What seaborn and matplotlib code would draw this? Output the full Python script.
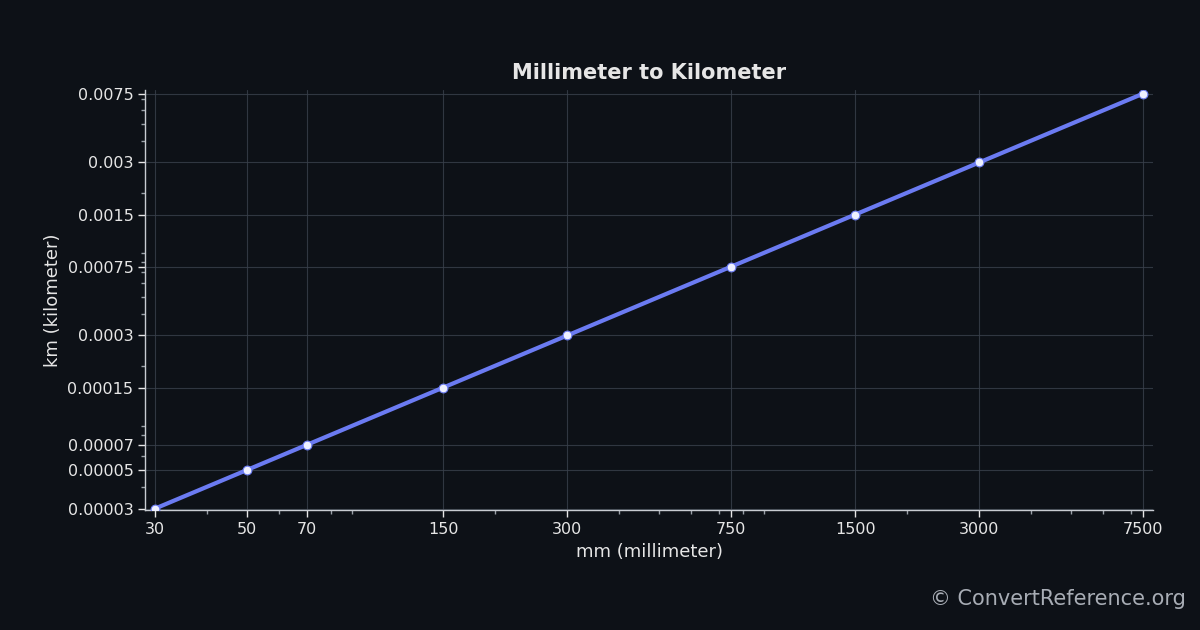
"""Millimeter to kilometer conversion chart (log-log)."""

import matplotlib

matplotlib.use("Agg")
import matplotlib.pyplot as plt
import pandas as pd
import seaborn as sns
from matplotlib.ticker import FixedLocator, FixedFormatter, NullFormatter

MM = [30, 50, 70, 150, 300, 750, 1500, 3000, 7500]
KM = [0.00003, 0.00005, 0.00007, 0.00015, 0.0003, 0.00075, 0.0015, 0.003, 0.0075]
X_LABELS = ["30", "50", "70", "150", "300", "750", "1500", "3000", "7500"]
Y_LABELS = ["0.00003", "0.00005", "0.00007", "0.00015", "0.0003",
            "0.00075", "0.0015", "0.003", "0.0075"]

BG = "#0d1117"
FG = "#e6e6e6"
LINE = "#6b7bf2"

sns.set_theme(style="dark")
plt.rcParams["font.family"] = ["DejaVu Sans"]

df = pd.DataFrame({"mm": MM, "km": KM})

fig = plt.figure(figsize=(12, 6.3), dpi=100, facecolor=BG)
ax = fig.add_axes([0.121, 0.19, 0.84, 0.667])
ax.set_facecolor(BG)

sns.lineplot(data=df, x="mm", y="km", color=LINE, linewidth=3, ax=ax, zorder=3)
ax.scatter(MM, KM, s=40, color="#eef0ff", edgecolor=LINE, linewidth=0.8, zorder=4)

ax.set_xscale("log")
ax.set_yscale("log")
ax.set_xlim(30 / 10**0.024, 7500 * 10**0.024)
ax.set_ylim(0.00003 / 10**0.01, 0.0075 * 10**0.02)

ax.xaxis.set_major_locator(FixedLocator(MM))
ax.xaxis.set_major_formatter(FixedFormatter(X_LABELS))
ax.yaxis.set_major_locator(FixedLocator(KM))
ax.yaxis.set_major_formatter(FixedFormatter(Y_LABELS))
ax.xaxis.set_minor_formatter(NullFormatter())
ax.yaxis.set_minor_formatter(NullFormatter())

ax.grid(True, which="major", color="#3a414c", linewidth=0.8, alpha=0.8)
ax.tick_params(axis="both", which="major", colors=FG, labelsize=11.5,
               length=5, width=1, bottom=True, left=True)
ax.tick_params(axis="both", which="minor", colors="#9aa0a8", length=3,
               bottom=True, left=True)

for side in ["top", "right"]:
    ax.spines[side].set_visible(False)
for side in ["left", "bottom"]:
    ax.spines[side].set_color("#c8ccd2")
    ax.spines[side].set_linewidth(1)

ax.set_xlabel("mm (millimeter)", color=FG, fontsize=13)
ax.set_ylabel("km (kilometer)", color=FG, fontsize=13)
ax.set_title("Millimeter to Kilometer", color=FG, fontsize=15,
             fontweight="bold", pad=8)

fig.text(0.988, 0.033, "© ConvertReference.org", color="#a8adb5",
         fontsize=15, ha="right", va="bottom")

fig.savefig("out.png", dpi=100, facecolor=BG)
